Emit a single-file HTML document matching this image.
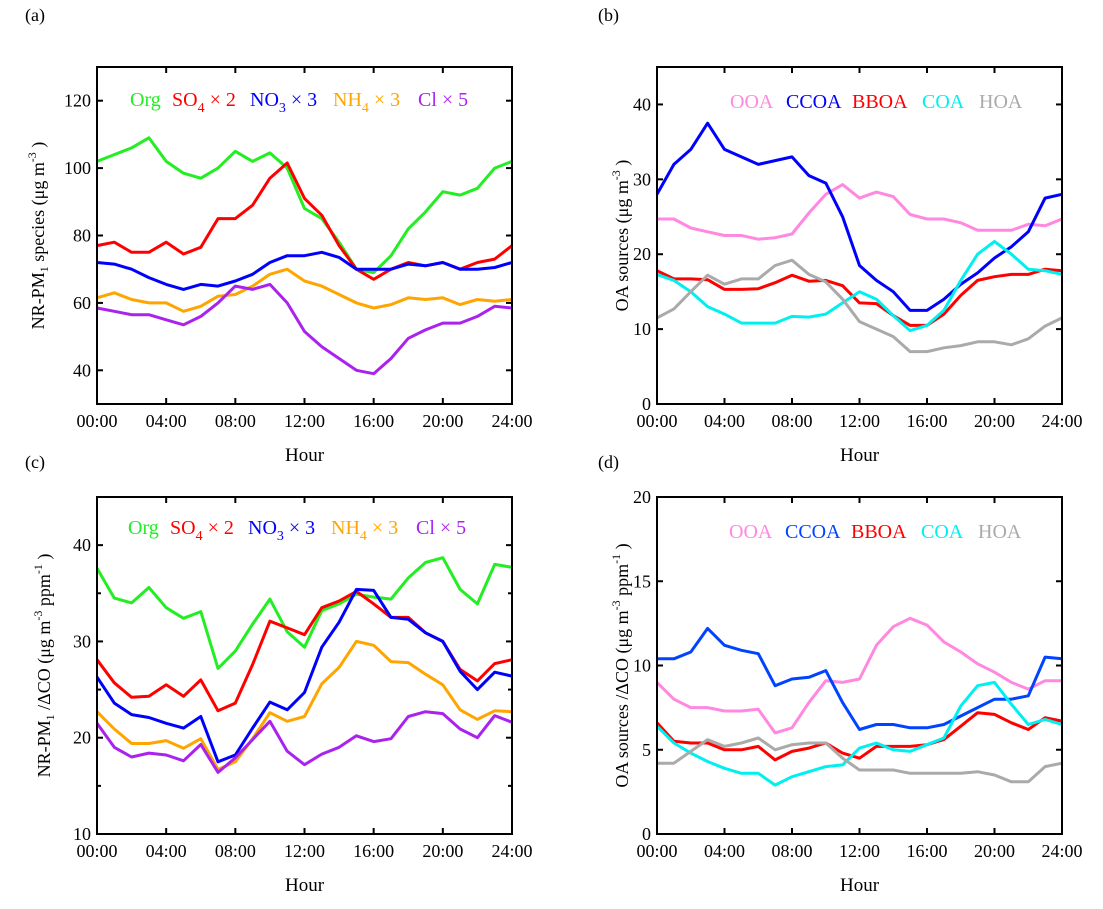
<!DOCTYPE html>
<html><head><meta charset="utf-8"><style>
body{margin:0;background:#fff}
svg{display:block;font-family:"Liberation Serif",serif}
</style></head><body>
<svg id="c" width="1103" height="909" viewBox="0 0 1103 909" xmlns="http://www.w3.org/2000/svg"></svg>
<script>
const hours=[0,1,2,3,4,5,6,7,8,9,10,11,12,13,14,15,16,17,18,19,20,21,22,23,24];
const xTickLabels=["00:00","04:00","08:00","12:00","16:00","20:00","24:00"];
// panel a
const aOrg=[102,104,106,109,102,98.5,97,100,105,102,104.5,100,88,85,78,70,69,74,82,87,93,92,94,100,102];
const aSO4=[77,78,75,75,78,74.5,76.5,85,85,89,97,101.5,91,86,77,70,67,70,72,71,72,70,72,73,77];
const aNO3=[72,71.5,70,67.5,65.5,64,65.5,65,66.5,68.5,72,74,74,75,73.5,70,70,70,71.5,71,72,70,70,70.5,72];
const aNH4=[61.5,63,61,60,60,57.5,59,62,62.5,65,68.5,70,66.5,65,62.5,60,58.5,59.5,61.5,61,61.5,59.5,61,60.5,61];
const aCl=[58.5,57.5,56.5,56.5,55,53.5,56,60,65,64,65.5,60,51.5,47,43.5,40,39,43.5,49.5,52,54,54,56,59,58.5];
const aTicks=[40,60,80,100,120];
// panel b
const bOOA=[24.7,24.7,23.5,23,22.5,22.5,22,22.2,22.7,25.5,28,29.3,27.5,28.3,27.7,25.3,24.7,24.7,24.2,23.2,23.2,23.2,24,23.8,24.7];
const bCCOA=[28,32,34,37.5,34,33,32,32.5,33,30.5,29.5,25,18.5,16.5,15,12.5,12.5,14,16,17.5,19.5,21,23,27.5,28];
const bBBOA=[17.8,16.7,16.7,16.6,15.3,15.3,15.4,16.2,17.2,16.4,16.5,15.8,13.5,13.4,11.8,10.5,10.5,12,14.5,16.5,17,17.3,17.3,18,17.8];
const bCOA=[17.3,16.5,15,13,12,10.8,10.8,10.8,11.7,11.6,12,13.5,15,14,11.8,9.8,10.5,12.5,16.5,20,21.7,20,18,17.8,17.3];
const bHOA=[11.5,12.7,15,17.2,16,16.7,16.7,18.5,19.2,17.3,16.3,14,11,10,9,7,7,7.5,7.8,8.3,8.3,7.9,8.7,10.4,11.5];
const bTicks=[0,10,20,30,40];
// panel c
const cOrg=[37.6,34.5,34,35.6,33.5,32.4,33.1,27.2,29,31.8,34.4,31,29.4,33.2,33.9,34.9,34.6,34.4,36.6,38.2,38.7,35.4,33.9,38,37.7];
const cSO4=[28.1,25.7,24.2,24.3,25.5,24.3,26,22.8,23.6,27.6,32.1,31.4,30.7,33.5,34.2,35.2,33.9,32.5,32.5,30.9,30,27.1,25.9,27.7,28.1];
const cNO3=[26.3,23.6,22.4,22.1,21.5,21,22.2,17.5,18.2,21,23.7,22.9,24.7,29.4,32,35.4,35.3,32.5,32.3,30.9,30,26.9,25,26.8,26.4];
const cNH4=[22.7,20.9,19.4,19.4,19.7,18.9,19.9,16.7,17.5,19.9,22.6,21.7,22.2,25.6,27.3,30,29.6,27.9,27.8,26.6,25.5,22.9,21.9,22.8,22.7];
const cCl=[21.5,19,18,18.4,18.2,17.6,19.3,16.4,17.9,19.8,21.7,18.6,17.2,18.3,19,20.2,19.6,19.9,22.2,22.7,22.5,20.9,20,22.3,21.6];
const cTicks=[10,20,30,40];
const cMinor=[15,25,35];
// panel d
const dOOA=[9,8,7.5,7.5,7.3,7.3,7.4,6,6.3,7.8,9.1,9,9.2,11.2,12.3,12.8,12.4,11.4,10.8,10.1,9.6,9,8.6,9.1,9.1];
const dCCOA=[10.4,10.4,10.8,12.2,11.2,10.9,10.7,8.8,9.2,9.3,9.7,7.8,6.2,6.5,6.5,6.3,6.3,6.5,7,7.5,8,8,8.2,10.5,10.4];
const dBBOA=[6.6,5.5,5.4,5.4,5,5,5.2,4.4,4.9,5.1,5.4,4.8,4.5,5.2,5.2,5.2,5.3,5.6,6.4,7.2,7.1,6.6,6.2,6.9,6.7];
const dCOA=[6.4,5.4,4.8,4.3,3.9,3.6,3.6,2.9,3.4,3.7,4,4.1,5.1,5.4,5,4.9,5.3,5.7,7.6,8.8,9,7.7,6.5,6.8,6.5];
const dHOA=[4.2,4.2,4.9,5.6,5.2,5.4,5.7,5,5.3,5.4,5.4,4.5,3.8,3.8,3.8,3.6,3.6,3.6,3.6,3.7,3.5,3.1,3.1,4,4.2];
const dTicks=[0,5,10,15,20];

const NS="http://www.w3.org/2000/svg";
const svg=document.getElementById('c');
function el(tag,attrs,parent){const e=document.createElementNS(NS,tag);for(const k in attrs)e.setAttribute(k,attrs[k]);(parent||svg).appendChild(e);return e;}

function panel(p){
  const g=el('g',{});
  
  
  const X=h=>p.x0+(h/24)*(p.x1-p.x0);
  const Y=v=>p.y1-(v-p.ymin)/(p.ymax-p.ymin)*(p.y1-p.y0);
  p.series.forEach(s=>{
    const d=hours.map((h,i)=>(i?'L':'M')+X(h).toFixed(1)+','+Y(s.v[i]).toFixed(1)).join('');
    const path=el('path',{d:d,fill:'none',stroke:s.c,'stroke-width':3,'stroke-linejoin':'round'},g);
    
    
  });
  const fr=el('rect',{x:p.x0,y:p.y0,width:p.x1-p.x0,height:p.y1-p.y0,fill:'none',stroke:'#000','stroke-width':2},g);
  
  
  xTickLabels.forEach((lab,i)=>{
    const x=X(i*4);
    el('line',{x1:x,y1:p.y1,x2:x,y2:p.y1-6,stroke:'#000','stroke-width':2},g);
    el('line',{x1:x,y1:p.y0,x2:x,y2:p.y0+6,stroke:'#000','stroke-width':2},g);
    const t=el('text',{x:x,y:p.y1+23,'font-size':18,'text-anchor':'middle'},g);
    t.textContent=lab;
    
    
  });
  p.ticks.forEach(v=>{
    const y=Y(v);
    el('line',{x1:p.x0,y1:y,x2:p.x0+6,y2:y,stroke:'#000','stroke-width':2},g);
    el('line',{x1:p.x1,y1:y,x2:p.x1-6,y2:y,stroke:'#000','stroke-width':2},g);
    const t=el('text',{x:p.x0-6,y:y+6,'font-size':18,'text-anchor':'end'},g);
    t.textContent=v;
    
    
  });
  (p.minor||[]).forEach(v=>{
    const y=Y(v);
    el('line',{x1:p.x0,y1:y,x2:p.x0+4,y2:y,stroke:'#000','stroke-width':2},g);
    el('line',{x1:p.x1,y1:y,x2:p.x1-4,y2:y,stroke:'#000','stroke-width':2},g);
  });
  const xl=el('text',{x:(p.x0+p.x1)/2,y:p.y1+57,'font-size':19,'text-anchor':'middle'},g);
  xl.textContent='Hour';
  
  
  const yl=el('text',{x:0,y:0,'font-size':18,'text-anchor':'middle',transform:`translate(${p.ylx},${(p.y0+p.y1)/2}) rotate(-90)`},g);
  yl.innerHTML=p.ylab;
  
  
  p.legend.forEach(it=>{
    const lt=el('text',{x:it[0],y:p.ly,'font-size':20,fill:it[2]},g);
    lt.innerHTML=it[1];
    
    
  });
  const pl=el('text',{x:p.px,y:p.py,'font-size':18},g);
  pl.textContent=p.plabel;
  
  
}
const GR='#22ee22',RD='#ff0000',BL='#0000ff',OR='#ffa500',PU='#aa22ee';
const PK='#ff88e0',CY='#00f0f0',GY='#aaaaaa';
const sub=(t)=>`<tspan font-size="14" dy="6">${t}</tspan><tspan dy="-6"> </tspan>`;
const legA=(dx)=>[[130+dx,'Org',GR],[172+dx,`SO${sub(4)}× 2`,RD],[250+dx,`NO${sub(3)}  × 3`,BL],[333+dx,`NH${sub(4)}× 3`,OR],[418+dx,'Cl × 5',PU]];
const legB=(cc,dx)=>[[730+dx,'OOA',PK],[786+dx,'CCOA',cc],[852+dx,'BBOA',RD],[922+dx,'COA',CY],[979+dx,'HOA',GY]];
const sup=(t)=>`<tspan font-size="12" dy="-8">${t}</tspan><tspan dy="8"> </tspan>`;
panel({name:'panel-a',plabel:'(a)',px:25,py:21,x0:97,x1:512,y0:67,y1:404,ymin:30,ymax:130,ticks:aTicks,
  series:[{n:'org',v:aOrg,c:GR},{n:'so4',v:aSO4,c:RD},{n:'no3',v:aNO3,c:BL},{n:'nh4',v:aNH4,c:OR},{n:'cl',v:aCl,c:PU}],
  ylx:44,ylab:`NR-PM<tspan font-size="12" dy="4">1</tspan><tspan dy="-4"> species (μg m</tspan>${sup('-3')})`,ly:106,legend:legA(0)});
panel({name:'panel-b',plabel:'(b)',px:598,py:21,x0:657,x1:1062,y0:67,y1:404,ymin:0,ymax:45,ticks:bTicks,
  series:[{n:'ooa',v:bOOA,c:PK},{n:'ccoa',v:bCCOA,c:BL},{n:'bboa',v:bBBOA,c:RD},{n:'coa',v:bCOA,c:CY},{n:'hoa',v:bHOA,c:GY}],
  ylx:628,ylab:`OA sources (μg m${sup('-3')})`,ly:108,legend:legB(BL,0)});
panel({name:'panel-c',plabel:'(c)',px:25,py:468,x0:97,x1:512,y0:497,y1:834,ymin:10,ymax:45,ticks:cTicks,minor:cMinor,
  series:[{n:'org',v:cOrg,c:GR},{n:'so4',v:cSO4,c:RD},{n:'no3',v:cNO3,c:BL},{n:'nh4',v:cNH4,c:OR},{n:'cl',v:cCl,c:PU}],
  ylx:50,ylab:`NR-PM<tspan font-size="12" dy="4">1</tspan><tspan dy="-4"> /ΔCO (μg m</tspan>${sup('-3')}ppm${sup('-1')})`,ly:534,legend:legA(-2)});
panel({name:'panel-d',plabel:'(d)',px:598,py:468,x0:657,x1:1062,y0:497,y1:834,ymin:0,ymax:20,ticks:dTicks,
  series:[{n:'ooa',v:dOOA,c:PK},{n:'ccoa',v:dCCOA,c:'#0044ff'},{n:'bboa',v:dBBOA,c:RD},{n:'coa',v:dCOA,c:CY},{n:'hoa',v:dHOA,c:GY}],
  ylx:628,ylab:`OA sources /ΔCO (μg m${sup('-3')}ppm${sup('-1')})`,ly:538,legend:legB('#0044ff',-1)});
</script>
</body></html>
